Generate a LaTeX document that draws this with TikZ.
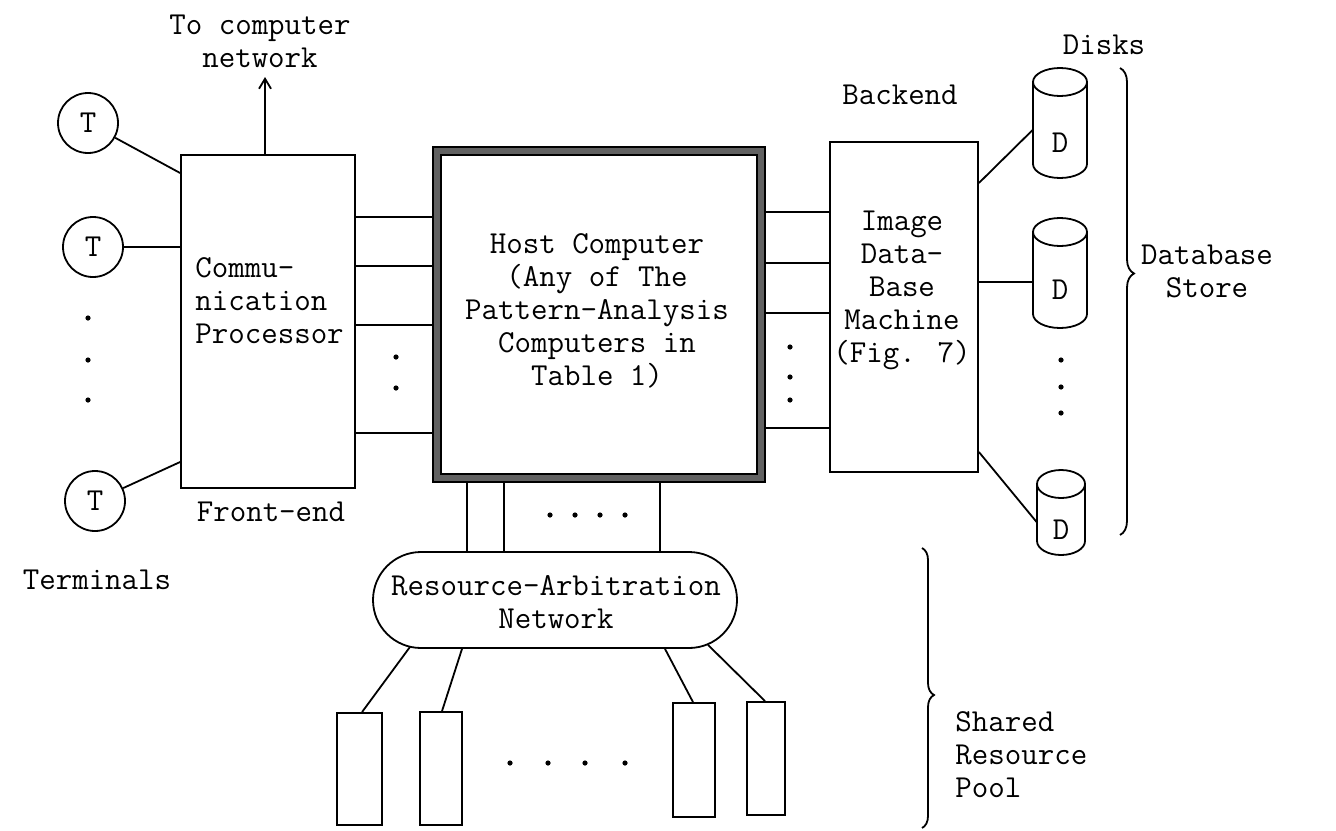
\documentclass[tikz,border=0pt]{standalone}
\usepackage{fontspec}
\usetikzlibrary{fit,calc,decorations.pathreplacing,arrows.meta}
\newcommand\diskcyl[4]{%
  \draw[conn] (#1,#3+14) ellipse [x radius=#2, y radius=14];
  \draw[conn] (#1-#2,#3+14) -- (#1-#2,#4-14) arc[start angle=180,end angle=0,x radius=#2,y radius=14] -- (#1+#2,#3+14);}
\newcommand\tdot[1]{\fill #1 circle [radius=2.6];}
\begin{document}
\begin{tikzpicture}[x=0.5pt,y=-0.5pt,
  every node/.style={font=\ttfamily\fontsize{16}{16.5}\selectfont, inner sep=0pt},
  conn/.style={line width=0.9pt},
  box/.style={draw, line width=0.9pt, fit={#1}, inner sep=0pt},
  term/.style={circle, draw, line width=0.9pt, minimum size=30pt},
  brc/.style={line width=0.9pt, decorate, decoration={brace, amplitude=#1}}]
\useasboundingbox (0,0) rectangle (1336,830);

% ---------- terminals and front-end
\node[term] (t1) at (88,123) {T};
\node[term] (t2) at (93,247) {T};
\node[term] (t3) at (95,501) {T};
\node[box={(181,155) (355,488)}] (cp) {};
\node[align=left, anchor=west] (cptxt) at (195,301) {Commu-\\nication\\Processor};
\draw[conn] (t1) -- (cp.west |- 0,173);
\draw[conn] (t2) -- (cp.west |- 0,247);
\draw[conn] (t3) -- (cp.west |- 0,462);
\tdot{(88,318)} \tdot{(88,360)} \tdot{(88,400)}
\coordinate (netend) at (265,77);
\draw[conn,-{Straight Barb[length=5pt,width=6pt]}] (cp.north -| 265,0) -- (netend);
\node[align=center] (tonet) at (260,41) {To computer\\network};
\node (fe) at (271,512) {Front-end};
\node (terms) at (97,580) {Terminals};

% ---------- host
\node[draw=black!62, line width=4pt, fit={(437,151) (761,478)}, inner sep=0pt] (host) {};
\draw[line width=0.7pt] (433,147) rectangle (765,482);
\draw[line width=0.7pt] (441,155) rectangle (757,474);
\node[align=center] (hosttxt) at (597,311) {Host Computer\\(Any of The\\Pattern-Analysis\\Computers in\\Table 1)};
\foreach \yy in {217,266,325,433}
  \draw[conn] (cp.east |- 0,\yy) -- (host.west |- 0,\yy);
\tdot{(396,357)} \tdot{(396,388)}

% ---------- backend
\node[box={(830,142) (978,472)}] (idb) {};
\node[align=center] (idbtxt) at (902,290) {Image\\Data-\\Base\\Machine\\(Fig. 7)};
\foreach \yy in {212,263,313,428}
  \draw[conn] (host.east |- 0,\yy) -- (idb.west |- 0,\yy);
\tdot{(790,347)} \tdot{(790,377)} \tdot{(790,400)}
\node (backend) at (900,95) {Backend};

% ---------- disks
\node[fit={(1033,68) (1087,178)}, inner sep=0pt] (d1) {};
\node[fit={(1033,218) (1087,328)}, inner sep=0pt] (d2) {};
\node[fit={(1037,470) (1085,555)}, inner sep=0pt] (d3) {};
\diskcyl{1060}{27}{68}{178}
\diskcyl{1060}{27}{218}{328}
\diskcyl{1061}{24}{470}{555}
\node (dt1) at (1060,143) {D};
\node (dt2) at (1060,290) {D};
\node (dt3) at (1061,530) {D};
\draw[conn] (idb.east |- 0,183) -- (d1.west |- 0,130);
\draw[conn] (idb.east |- 0,282) -- (d2.west |- 0,282);
\draw[conn] (idb.east |- 0,452) -- (d3.west |- 0,522);
\tdot{(1061,360)} \tdot{(1061,387)} \tdot{(1061,413)}
\node (disks) at (1104,45) {Disks};
\draw[brc=7pt, decoration={aspect=0.44}] (1120,68) -- (1120,535);
\node[align=center] (dbs) at (1207,271) {Database\\Store};

% ---------- resource arbitration
\node[draw, line width=0.9pt, rounded corners=24pt, fit={(373,552) (737,648)}, inner sep=0pt] (ran) {};
\node[align=center] (rantxt) at (556,602) {Resource-Arbitration\\Network};
\foreach \xx in {467,504,660}
  \draw[conn] (host.south -| \xx,0) -- (ran.north -| \xx,0);
\tdot{(550,515)} \tdot{(575,515)} \tdot{(600,515)} \tdot{(625,515)}

\node[box={(337,713) (382,825)}] (r1) {};
\node[box={(420,712) (462,825)}] (r2) {};
\node[box={(673,703) (715,817)}] (r3) {};
\node[box={(747,702) (785,815)}] (r4) {};
\draw[conn] ($(ran.south -| 410,0)+(0,-2)$) -- (r1.north -| 362,0);
\draw[conn] (ran.south -| 462,0) -- (r2.north -| 442,0);
\draw[conn] (ran.south -| 665,0) -- (r3.north -| 693,0);
\draw[conn] ($(ran.south -| 708,0)+(0,-4)$) -- (r4.north -| 765,0);
\tdot{(510,763)} \tdot{(548,763)} \tdot{(585,763)} \tdot{(625,763)}
\draw[brc=6pt, decoration={aspect=0.525}] (922,548) -- (922,828);
\node[align=left, anchor=west] (pool) at (955,755) {Shared\\Resource\\Pool};
\end{tikzpicture}
\end{document}
